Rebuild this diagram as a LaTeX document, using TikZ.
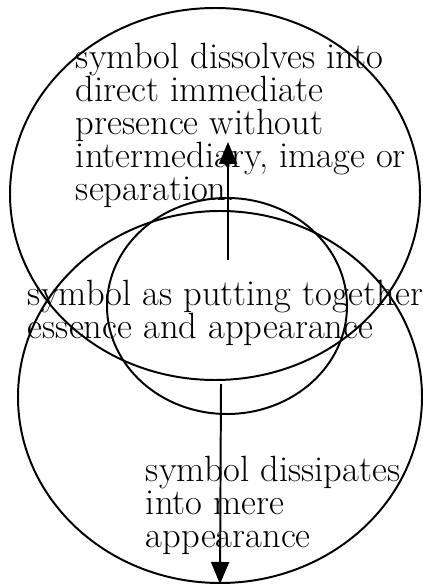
\documentclass[tikz,border=0pt]{standalone}
\usepackage{fontspec}
\usetikzlibrary{arrows.meta,shapes.geometric}

\begin{document}
\begin{tikzpicture}[>={Triangle[length=0.55cm,width=0.45cm]},line width=1.4pt,font=\fontsize{26}{23.5}\selectfont]
\tikzstyle{ring}=[draw,ellipse,inner sep=0pt]
\tikzstyle{txt}=[align=left,anchor=north west,inner sep=0pt]
\useasboundingbox (0,0) rectangle (10.55,14.6);
\node[ring,minimum width=10.25cm,minimum height=9.3cm] (presence) at (5.375,9.75) {};
\node[ring,minimum width=10.1cm,minimum height=9.3cm] (appearance) at (5.5,4.675) {};
\node[ring,minimum width=6cm,minimum height=5.4cm] (symbol) at (5.675,6.95) {};
\node[txt] (presence text) at (1.875,13.55) {symbol dissolves into\\direct immediate\\presence without\\intermediary, image or\\separation.};
\node[txt] (symbol text) at (0.675,7.625) {symbol as putting together\\essence and appearance};
\node[txt] (appearance text) at (3.625,3.225) {symbol dissipates\\into mere\\appearance};
\coordinate (up from) at (5.7,8.1);
\coordinate (up to) at (5.7,11.05);
\coordinate (down from) at (5.525,5.0);
\draw[->] (up from) -- (up to);
\draw[->] (down from) -- (appearance.south);
\end{tikzpicture}
\end{document}
